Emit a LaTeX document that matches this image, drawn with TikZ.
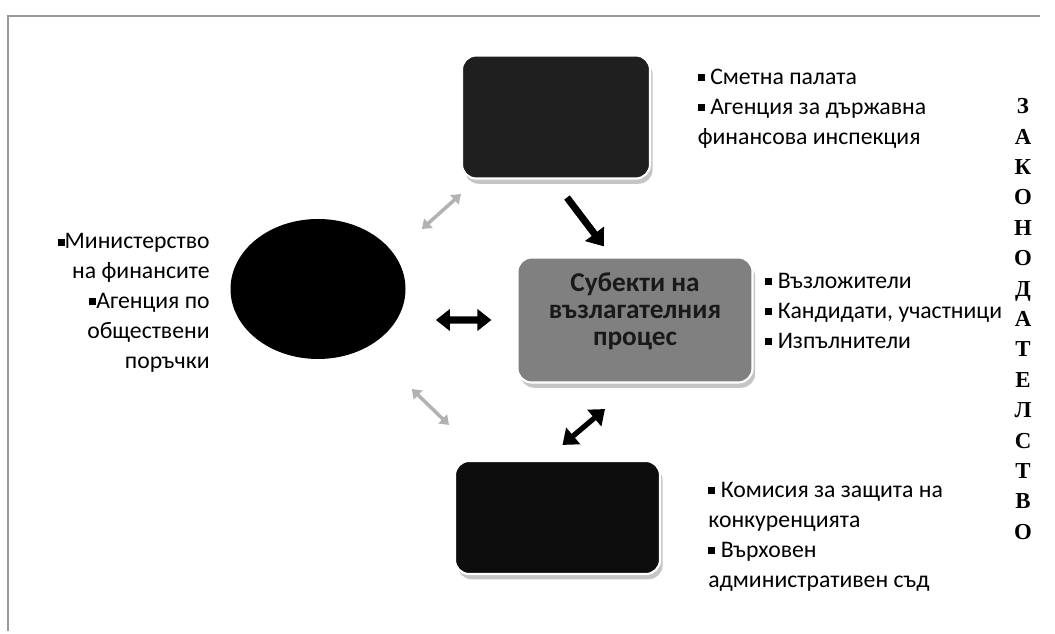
\documentclass[tikz,border=0pt]{standalone}
\usepackage{fontspec}
\setmainfont{Carlito}
\newfontfamily\lawfont{Liberation Serif}
\usetikzlibrary{arrows.meta,calc,shadows,shapes.geometric}
\newcommand{\blt}{\rule[0.3ex]{4pt}{4pt}}

\begin{document}
\begin{tikzpicture}[
    organ/.style={rounded corners=8pt,draw=white,line width=1.2pt,
        drop shadow={shadow xshift=1.5pt,shadow yshift=-3pt,fill=black!45}},
    lst/.style={align=left,inner sep=0pt,font=\fontsize{13.5}{17}\selectfont},
    bigarr/.style={line width=4pt,-{Triangle[length=9pt,width=13pt]}},
    dblarr/.style={line width=4pt,{Triangle[length=8pt,width=12pt]}-{Triangle[length=8pt,width=12pt]}},
    thinarr/.style={draw=gray!60,line width=2pt,{Triangle[length=5pt,width=7pt]}-{Triangle[length=5pt,width=7pt]}}
]
    \useasboundingbox (0,0) rectangle (21.1,12.68);
    % frame
    \draw[gray!80,line width=1.2pt] (20.8,12.36) -- (0.16,12.36) -- (0.16,0.05);

    % bodies
    \node[ellipse,fill=black,inner sep=0pt,minimum width=3.5cm,minimum height=2.8cm] (mfo) at (6.36,6.9) {};
    \node[organ,fill=black!88,minimum width=3.76cm,minimum height=2.46cm] (ctrl) at (11.12,10.34) {};
    \node[organ,fill=black!50,minimum width=4.7cm,minimum height=2.5cm,align=center,text=black!90,
          font=\bfseries\fontsize{15.5}{15.5}\selectfont] (subj) at (12.7,6.28)
          {Субекти на\\възлагателния\\процес\\[-3pt]};
    \node[organ,fill=black!95,minimum width=4.1cm,minimum height=2.26cm] (court) at (11.15,2.33) {};

    % lists
    \node[lst,anchor=east,align=right] (mfotxt) at (4.2,6.62)
        {\blt Министерство\\на финансите\\\blt Агенция по\\обществени\\поръчки};
    \node[lst,anchor=west] (ctrltxt) at (13.95,10.5)
        {\blt\ Сметна палата\\\blt\ Агенция за държавна\\финансова инспекция};
    \node[lst,anchor=west] (subjtxt) at (15.3,6.46)
        {\blt\ Възложители\\\blt\ Кандидати, участници\\\blt\ Изпълнители};
    \node[lst,anchor=west] (courttxt) at (14.16,1.94)
        {\blt\ Комисия за защита на\\конкуренцията\\\blt\ Върховен\\административен съд};
    \node[align=center,inner sep=0pt,font=\lawfont\bfseries\fontsize{13}{17.3}\selectfont] (law) at (20.46,6.3)
        {З\\А\\К\\О\\Н\\О\\Д\\А\\Т\\Е\\Л\\С\\Т\\В\\О};

    % links
    \draw[bigarr] ($(ctrl.south)+(0.22,-0.36)$) -- ($(subj.north)+(-0.62,0.2)$);
    \draw[dblarr] ($(mfo.east)+(0.6,-0.62)$) -- ($(subj.west)+(-0.5,0)$);
    \draw[thinarr] ($(mfo.east)+(0.32,1.2)$) -- ($(ctrl.south west)+(0,-0.29)$);
    \draw[thinarr] ($(mfo.east)+(0.12,-2.0)$) -- ($(court.north west)+(-0.1,0.7)$);
    \draw[dblarr,line width=3pt] ($(subj.south)+(-0.6,-0.51)$) -- ($(court.north)+(0.1,0.3)$);
\end{tikzpicture}
\end{document}
